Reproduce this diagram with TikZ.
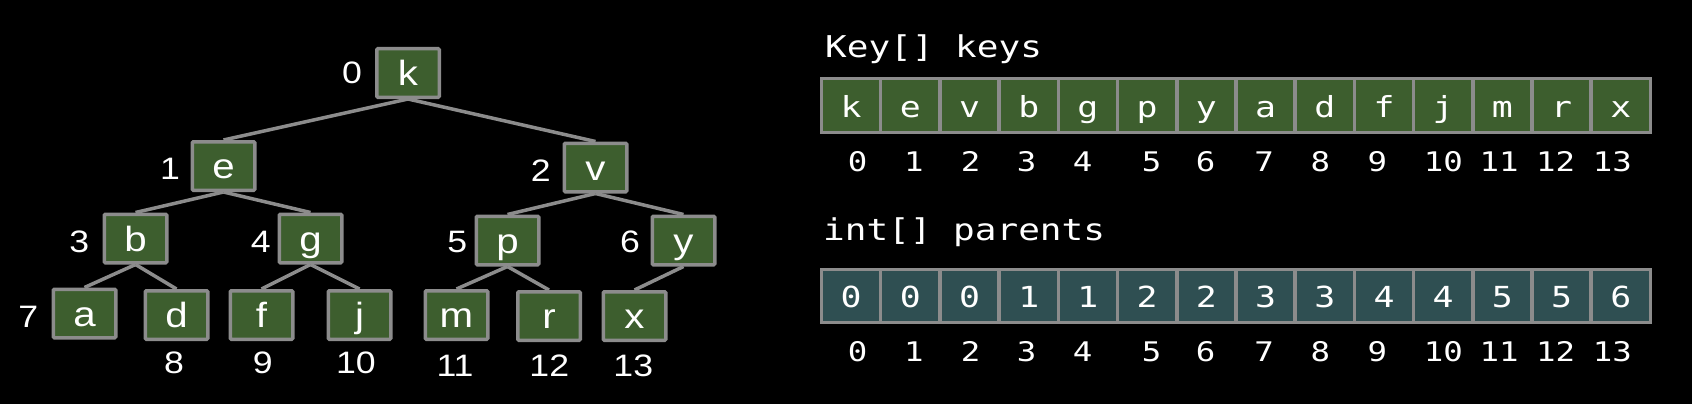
\documentclass[tikz,border=0pt]{standalone}
\usepackage{fontspec}
\newfontfamily\treefont{Liberation Sans}[FakeStretch=1.15]
\newfontfamily\arrfont{DejaVu Sans Mono}[FakeStretch=1.2]
\definecolor{boxgreen}{RGB}{61,94,46}
\definecolor{boxteal}{RGB}{47,79,82}
\definecolor{linegray}{RGB}{140,140,140}
\begin{document}
\begin{tikzpicture}[x=1pt,y=-1pt,
  treebox/.style={draw=linegray, line width=3.5pt, fill=boxgreen, minimum width=62.5pt,
    minimum height=48.5pt, inner sep=0pt, text=white, rounded corners=1pt,
    font=\treefont\fontsize{35}{40}\selectfont, text height=25pt, text depth=0pt},
  treeidx/.style={inner sep=0pt, text=white, font=\treefont\fontsize{31}{36}\selectfont,
    text height=22pt, text depth=0pt},
  treeedge/.style={draw=linegray, line width=3.5pt},
  keycell/.style={draw=linegray, line width=3.5pt, fill=boxgreen, minimum width=59.21pt,
    minimum height=53.5pt, inner sep=0pt, text=white,
    font=\arrfont\fontsize{29}{34}\selectfont, text height=23pt, text depth=0pt},
  parcell/.style={keycell, fill=boxteal, minimum height=53pt},
  arridx/.style={inner sep=0pt, text=white, font=\arrfont\fontsize{27}{32}\selectfont,
    text height=19.5pt, text depth=0pt},
  arrtitle/.style={inner sep=0pt, anchor=base west, text=white,
    font=\arrfont\fontsize{30}{36}\selectfont}
]
\useasboundingbox[fill=black] (0,0) rectangle (1692,404);

% tree nodes
\node[treebox] (tk) at (408,73) {k};
\node[treebox] (te) at (223.5,166) {e};
\node[treebox] (tv) at (595.5,167.5) {v};
\node[treebox] (tb) at (135.5,238.5) {b};
\node[treebox] (tg) at (310.5,238.5) {g};
\node[treebox] (tp) at (507.5,240.5) {p};
\node[treebox] (ty) at (683.5,240.5) {y};
\node[treebox] (ta) at (84.5,313.5) {a};
\node[treebox] (td) at (176.5,315) {d};
\node[treebox] (tf) at (261.5,315) {f};
\node[treebox] (tj) at (359.5,315) {j};
\node[treebox] (tm) at (456.5,315) {m};
\node[treebox] (tr) at (549,316) {r};
\node[treebox] (tx) at (634.5,316) {x};

% tree edges
\foreach \p/\c in {tk/te, tk/tv, te/tb, te/tg, tv/tp, tv/ty, tb/ta, tb/td, tg/tf, tg/tj, tp/tm, tp/tr, ty/tx}
  \draw[treeedge] (\p.south) -- (\c.north);

% tree indices
\node[treeidx] (i0) at (352,73) {0};
\node[treeidx] (i1) at (170,168.5) {1};
\node[treeidx] (i2) at (540.7,170) {2};
\node[treeidx] (i3) at (79.3,241) {3};
\node[treeidx] (i4) at (260.7,241) {4};
\node[treeidx] (i5) at (457.3,241) {5};
\node[treeidx] (i6) at (630,241) {6};
\node[treeidx] (i7) at (28.3,316.5) {7};
\node[treeidx] (i8) at (174,362) {8};
\node[treeidx] (i9) at (262.7,362) {9};
\node[treeidx] (i10) at (356,362) {10};
\node[treeidx] (i11) at (455,365) {11};
\node[treeidx] (i12) at (549.3,365) {12};
\node[treeidx] (i13) at (633.3,365) {13};

% arrays
\node[arrtitle] (keystitle) at (825,58) {Key[] keys};
\node[arrtitle] (parstitle) at (823,240) {int[] parents};

\foreach \t [count=\i from 0] in {k,e,v,b,g,p,y,a,d,f,j,m,r,x}
  \node[keycell] (key\i) at ({821.5+59.21*(\i+0.5)},105.5) {\t};
\foreach \t [count=\i from 0] in {0,0,0,1,1,2,2,3,3,4,4,5,5,6}
  \node[parcell] (par\i) at ({821.5+59.21*(\i+0.5)},295.75) {\t};

\foreach \xx [count=\i from 0] in {857.7,913.8,970.7,1026.7,1082.7,1151.7,1205.7,1264,1320.3,1377.3,1443.3,1499,1555.7,1612.3} {
  \node[arridx] (kidx\i) at (\xx,161.5) {\i};
  \node[arridx] (pidx\i) at (\xx,351.5) {\i};
}
\end{tikzpicture}
\end{document}
